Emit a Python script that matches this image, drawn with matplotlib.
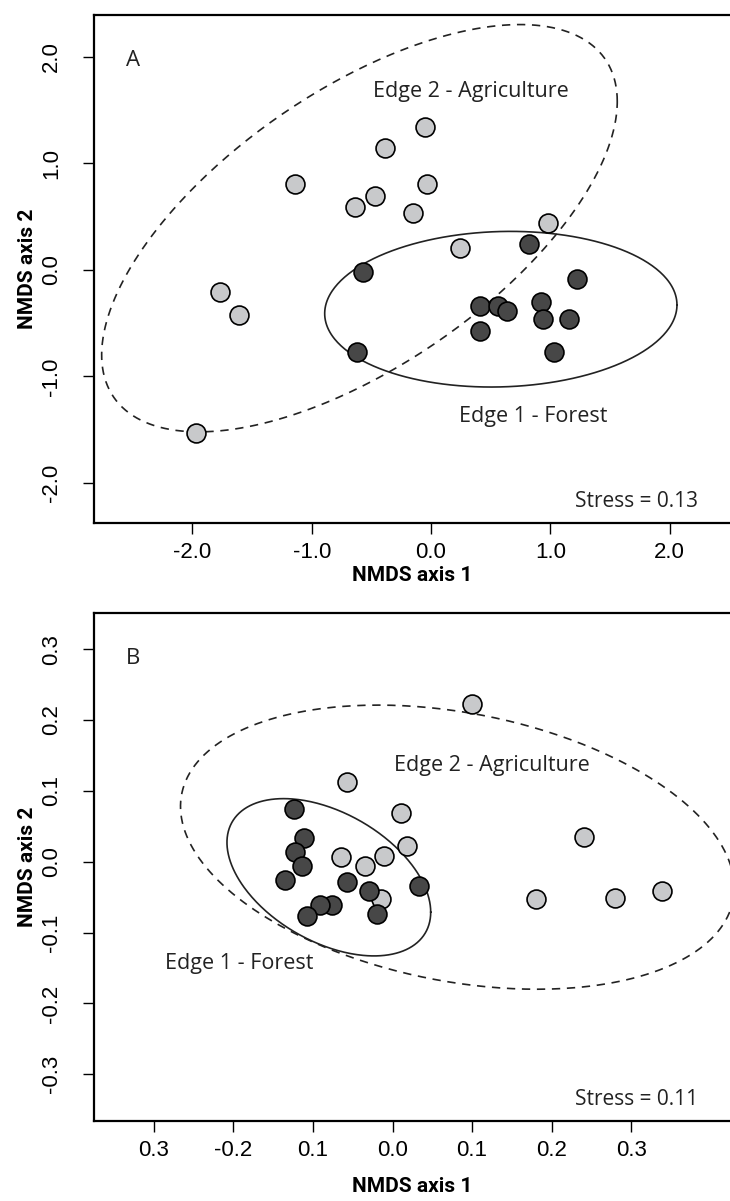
import numpy as np
import matplotlib
matplotlib.use("Agg")
import matplotlib.pyplot as plt

# NMDS scores, panel A
a_forest_x = [-0.57, 0.82, 1.22, 0.41, 0.56, 0.64, 0.92, 0.94, 1.16, 0.41, 1.03, -0.62]
a_forest_y = [-0.02, 0.24, -0.09, -0.34, -0.34, -0.39, -0.30, -0.46, -0.46, -0.57, -0.77, -0.77]
a_agri_x = [-1.97, -1.77, -1.61, -1.14, -0.64, -0.47, -0.39, -0.15, -0.05, -0.03, 0.24, 0.98]
a_agri_y = [-1.53, -0.21, -0.42, 0.80, 0.59, 0.69, 1.14, 0.53, 1.34, 0.80, 0.20, 0.44]

# NMDS scores, panel B
b_forest_x = [-0.124, -0.111, -0.122, -0.114, -0.135, -0.057, -0.030, 0.033, -0.076, -0.091, -0.107, -0.019]
b_forest_y = [0.074, 0.033, 0.014, -0.006, -0.026, -0.029, -0.042, -0.034, -0.061, -0.061, -0.077, -0.074]
b_agri_x = [-0.057, 0.011, 0.018, -0.011, -0.065, -0.034, -0.015, 0.100, 0.240, 0.180, 0.279, 0.339]
b_agri_y = [0.112, 0.069, 0.022, 0.008, 0.006, -0.006, -0.053, 0.223, 0.035, -0.053, -0.051, -0.041]

# group ellipses: centre and shape matrix
a_forest_ell = ([0.585, -0.37], [[2.18, 0.06], [0.06, 0.533]])
a_agri_ell = ([-0.60, 0.39], [[4.67, 2.57], [2.57, 3.65]])
b_forest_ell = ([-0.080, -0.022], [[0.01638, -0.0063], [-0.0063, 0.01232]])
b_agri_ell = ([0.0815, 0.0205], [[0.121, -0.020], [-0.020, 0.0402]])

a_ticks = [-2.0, -1.0, 0.0, 1.0, 2.0]
a_ticklabels = ["-2.0", "-1.0", "0.0", "1.0", "2.0"]
b_yticks = [-0.3, -0.2, -0.1, 0.0, 0.1, 0.2, 0.3]
b_yticklabels = ["-0.3", "-0.2", "-0.1", "0.0", "0.1", "0.2", "0.3"]
b_xticks = [-0.3, -0.2, -0.1, 0.0, 0.1, 0.2, 0.3]
b_xticklabels = ["0.3", "-0.2", "0.1", "0.0", "0.1", "0.2", "0.3"]

light = "#c8c9cb"
dark = "#474747"
tick_font = ["Liberation Sans Narrow", "Liberation Sans", "DejaVu Sans"]
text_font = ["Open Sans", "DejaVu Sans"]
label_font = ["Roboto", "DejaVu Sans"]


def ellipse(ax, centre, shape, **kw):
    t = np.linspace(0, 2 * np.pi, 400)
    L = np.linalg.cholesky(np.array(shape))
    pts = np.array(centre)[:, None] + L @ np.vstack([np.cos(t), np.sin(t)])
    ax.plot(pts[0], pts[1], color="#222222", lw=1.2, **kw)


def panel(ax, fx, fy, gx, gy, fell, gell, letter, stress, xlim, ylim):
    ellipse(ax, *gell, ls=(0, (5, 4)))
    ellipse(ax, *fell)
    ax.scatter(gx, gy, s=185, c=light, edgecolors="black", linewidths=1.2, zorder=3)
    ax.scatter(fx, fy, s=185, c=dark, edgecolors="black", linewidths=1.2, zorder=3)
    ax.set_xlim(xlim)
    ax.set_ylim(ylim)
    for side in ["left", "top", "bottom"]:
        ax.spines[side].set_linewidth(1.6)
    ax.spines["right"].set_visible(False)
    ax.tick_params(direction="out", length=8, width=1.0)
    ax.tick_params(axis="x", pad=6)
    ax.tick_params(axis="y", pad=15)
    ax.text(0.05, 0.9, letter, transform=ax.transAxes, fontsize=16,
            family=text_font, color="#222222")
    ax.text(0.95, 0.032, stress, transform=ax.transAxes, ha="right",
            va="baseline", fontsize=15, family=text_font, color="#222222")
    ax.set_xlabel("NMDS axis 1", fontsize=15, fontweight="bold",
                  family=label_font, labelpad=2)
    ax.set_ylabel("NMDS axis 2", fontsize=15, fontweight="bold",
                  family=label_font, labelpad=3)


fig = plt.figure(figsize=(7.3, 12.01), dpi=100)

ax1 = fig.add_axes([0.1288, 0.5645, 0.8712, 0.423])
panel(ax1, a_forest_x, a_forest_y, a_agri_x, a_agri_y, a_forest_ell, a_agri_ell,
      "A", "Stress = 0.13", (-2.825, 2.506), (-2.376, 2.39))
ax1.set_xticks(a_ticks, a_ticklabels, family=tick_font, fontsize=16)
ax1.set_yticks(a_ticks, a_ticklabels, family=tick_font, fontsize=16,
               rotation=90, va="center")
ax1.text(0.33, 1.67, "Edge 2 - Agriculture", ha="center", va="center",
         fontsize=15.5, family=text_font, color="#222222")
ax1.text(0.86, -1.38, "Edge 1 - Forest", ha="center", va="center",
         fontsize=15.5, family=text_font, color="#222222")

ax2 = fig.add_axes([0.1288, 0.0666, 0.8712, 0.423])
panel(ax2, b_forest_x, b_forest_y, b_agri_x, b_agri_y, b_forest_ell, b_agri_ell,
      "B", "Stress = 0.11", (-0.375, 0.424), (-0.366, 0.351))
ax2.set_xticks(b_xticks, b_xticklabels, family=tick_font, fontsize=16)
ax2.set_yticks(b_yticks, b_yticklabels, family=tick_font, fontsize=16,
               rotation=90, va="center")
ax2.xaxis.labelpad = 11
ax2.text(0.125, 0.136, "Edge 2 - Agriculture", ha="center", va="center",
         fontsize=15.5, family=text_font, color="#222222")
ax2.text(-0.192, -0.144, "Edge 1 - Forest", ha="center", va="center",
         fontsize=15.5, family=text_font, color="#222222")

fig.savefig("out.png", dpi=100)
